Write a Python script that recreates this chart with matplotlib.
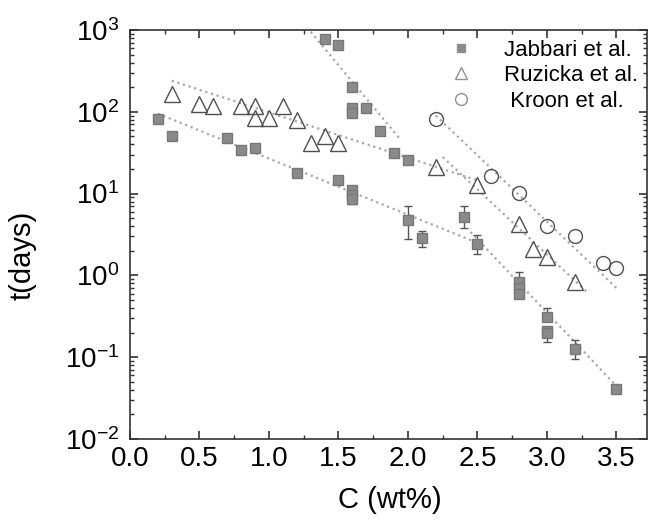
import matplotlib
matplotlib.use("Agg")
import matplotlib.pyplot as plt
from matplotlib.ticker import LogLocator, MultipleLocator, NullFormatter

plt.rcParams['font.family'] = ['Liberation Sans', 'DejaVu Sans']
plt.rcParams['mathtext.fontset'] = 'custom'
plt.rcParams['mathtext.rm'] = 'Liberation Sans'
plt.rcParams['mathtext.default'] = 'regular'

# Jabbari et al. (filled squares, with error bars)
jab_c = [0.2, 0.3, 0.7, 0.8, 0.9, 1.2, 1.4, 1.5, 1.5, 1.6, 1.6, 1.6, 1.6, 1.6, 1.6,
         1.7, 1.8, 1.9, 2.0, 2.0, 2.1, 2.4, 2.5, 2.8, 2.8, 2.8, 3.0, 3.0, 3.0, 3.2, 3.5]
jab_t = [82, 50, 48, 34, 36, 18, 780, 650, 14.5, 200, 110, 97, 11, 9.5, 8.5,
         110, 58, 31, 26, 4.8, 2.9, 5.2, 2.4, 0.83, 0.7, 0.6, 0.31, 0.21, 0.2, 0.125, 0.041]
jab_lo = [74, 45, 44, 31, 33, 16.5, 720, 600, 13.2, 185, 100, 88, 10, 8.5, 7.4,
          100, 53, 28, 24, 2.75, 2.2, 3.8, 1.84, 0.7, 0.6, 0.54, 0.28, 0.19, 0.153, 0.095, 0.037]
jab_hi = [90, 55, 52, 37, 39, 19.5, 850, 710, 15.8, 215, 120, 106, 12, 10.5, 9.3,
          120, 63, 34, 28, 7.0, 3.45, 7.0, 3.1, 1.1, 0.8, 0.65, 0.40, 0.23, 0.22, 0.16, 0.045]

# Ruzicka et al. (open triangles)
ruz_c = [0.3, 0.5, 0.6, 0.8, 0.9, 0.9, 1.0, 1.1, 1.2, 1.3, 1.4, 1.5, 2.2, 2.5, 2.8, 2.9, 3.0, 3.2]
ruz_t = [165, 123, 117, 118, 118, 85, 85, 118, 80, 41, 50, 41, 21, 12.8, 4.3, 2.1, 1.7, 0.83]

# Kroon et al. (open circles)
kro_c = [2.2, 2.6, 2.8, 3.0, 3.2, 3.4, 3.5]
kro_t = [81, 16.2, 10.1, 4.0, 3.0, 1.41, 1.23]

# dotted guide lines (end points)
fit_c = [(0.2, 2.5), (2.45, 3.55), (1.3, 1.95), (0.3, 2.5), (2.25, 3.3), (2.2, 3.5)]
fit_t = [(95, 2.5), (3.4, 0.036), (950, 45), (240, 14.5), (28, 0.6), (90, 0.7)]

fig = plt.figure(figsize=(6.49, 5.2), dpi=100)
ax = fig.add_axes([0.2003, 0.1558, 0.7967, 0.7865])

for c, t in zip(fit_c, fit_t):
    ax.plot(c, t, ':', color='#a8a8a8', lw=1.6, zorder=1)

err = [[y - lo for y, lo in zip(jab_t, jab_lo)], [hi - y for y, hi in zip(jab_t, jab_hi)]]
ax.errorbar(jab_c, jab_t, yerr=err, fmt='none', ecolor='#555555', elinewidth=1.0,
            capsize=3, capthick=1.0, zorder=2)
ax.plot(jab_c, jab_t, 's', color='#8a8a8a', mec='#777777', ms=7, zorder=3,
        label='Jabbari et al.')
ax.plot(ruz_c, ruz_t, '^', mfc='none', mec='#505050', mew=1.0, ms=11, zorder=3,
        label='Ruzicka et al.')
ax.plot(kro_c, kro_t, 'o', mfc='none', mec='#505050', mew=1.0, ms=10, zorder=3,
        label=' Kroon et al.')

ax.set_yscale('log')
ax.set_xlim(0, 3.72)
ax.set_ylim(1e-2, 1e3)
ax.xaxis.set_major_locator(MultipleLocator(0.5))
ax.xaxis.set_minor_locator(MultipleLocator(0.25))
ax.xaxis.set_major_formatter(plt.FormatStrFormatter('%.1f'))
ax.yaxis.set_major_locator(LogLocator(base=10, numticks=10))
ax.yaxis.set_minor_locator(LogLocator(base=10, subs=range(2, 10), numticks=20))
ax.yaxis.set_minor_formatter(NullFormatter())

ax.tick_params(which='both', direction='in', top=True, right=True, color='#333333',
               labelsize=20)
ax.tick_params(axis='x', pad=5)
ax.tick_params(axis='y', pad=8)
ax.tick_params(which='major', length=6, width=1.2)
ax.tick_params(which='minor', length=3, width=1.0)
for s in ax.spines.values():
    s.set_linewidth(1.2)
    s.set_color('#333333')

ax.set_xlabel('C (wt%)', fontsize=21)
ax.set_ylabel('t(days)', fontsize=21)
ax.xaxis.set_label_coords(0.503, -0.115)
ax.yaxis.set_label_coords(-0.18, 0.45)

leg = ax.legend(loc='upper left', frameon=False, fontsize=16, handlelength=1.0,
                handletextpad=1.45, labelspacing=0.2, borderpad=0, borderaxespad=0,
                bbox_to_anchor=(0.619, 0.976))
for h in leg.legend_handles:
    h.set_markersize(h.get_markersize() * 0.85)
    h.set_markeredgecolor('#909090')

fig.savefig('out.png', dpi=100)
